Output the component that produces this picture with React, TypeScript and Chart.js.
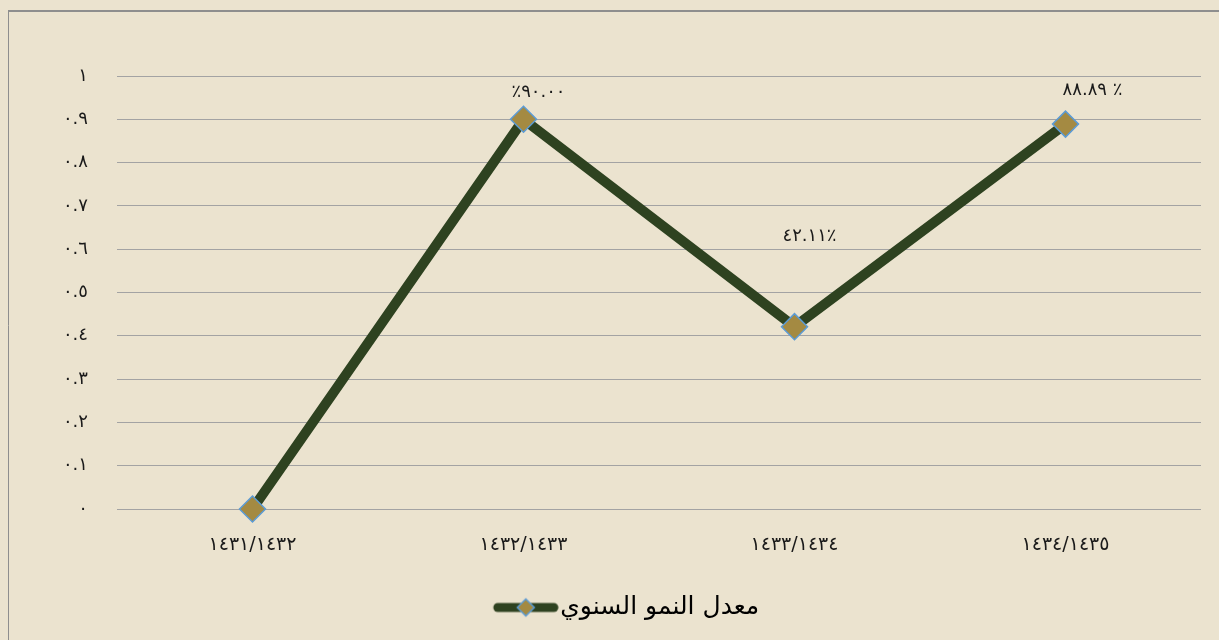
import React, { useEffect, useRef } from "react";
import { Chart, registerables } from "chart.js";

Chart.register(...registerables);

const categories = ["١٤٣١/١٤٣٢", "١٤٣٢/١٤٣٣", "١٤٣٣/١٤٣٤", "١٤٣٤/١٤٣٥"];
const growthRate = [0, 0.9, 0.4211, 0.8889];
const valueLabels = ["", "٪٩٠.٠٠", "٤٢.١١٪", "٨٨.٨٩ ٪"];
const yTickLabels = ["٠", "٠.١", "٠.٢", "٠.٣", "٠.٤", "٠.٥", "٠.٦", "٠.٧", "٠.٨", "٠.٩", "١"];
const seriesName = "معدل النمو السنوي";

const BG = "#EBE3CF";
const LINE = "#2E4220";
const MARKER = "#A48A42";
const MARKER_EDGE = "#5B9BD5";
const FONT = "'DejaVu Sans', sans-serif";

// label placement relative to each point (px)
const labelShift = [
  [0, 0],
  [15, -27],
  [15, -90],
  [27, -34],
];

function makeLegendImage(): HTMLCanvasElement {
  const c = document.createElement("canvas");
  c.width = 84;
  c.height = 24;
  const g = c.getContext("2d")!;
  const ox = 18;
  g.strokeStyle = LINE;
  g.lineWidth = 9;
  g.lineCap = "round";
  g.beginPath();
  g.moveTo(ox + 5, 12);
  g.lineTo(ox + 61, 12);
  g.stroke();
  g.beginPath();
  g.moveTo(ox + 33 - 8.5, 12);
  g.lineTo(ox + 33, 3.5);
  g.lineTo(ox + 33 + 8.5, 12);
  g.lineTo(ox + 33, 20.5);
  g.closePath();
  g.fillStyle = MARKER;
  g.fill();
  g.strokeStyle = MARKER_EDGE;
  g.lineWidth = 1.5;
  g.stroke();
  return c;
}

const framePlugin = {
  id: "frame",
  beforeDraw(chart: any) {
    const ctx = chart.ctx;
    ctx.save();
    ctx.fillStyle = BG;
    ctx.fillRect(0, 0, chart.width, chart.height);
    ctx.strokeStyle = "#8E8E8E";
    ctx.lineWidth = 2;
    ctx.beginPath();
    ctx.moveTo(8, 11);
    ctx.lineTo(chart.width, 11);
    ctx.stroke();
    ctx.lineWidth = 1;
    ctx.beginPath();
    ctx.moveTo(8.5, 11);
    ctx.lineTo(8.5, chart.height);
    ctx.stroke();
    ctx.restore();
  },
};

const labelPlugin = {
  id: "valueLabels",
  afterDatasetsDraw(chart: any) {
    const ctx = chart.ctx;
    const meta = chart.getDatasetMeta(0);
    ctx.save();
    ctx.font = `18px ${FONT}`;
    ctx.fillStyle = "#1a1a1a";
    ctx.textAlign = "center";
    ctx.textBaseline = "middle";
    meta.data.forEach((pt: any, i: number) => {
      const t = valueLabels[i];
      if (!t) return;
      ctx.fillText(t, pt.x + labelShift[i][0], pt.y + labelShift[i][1]);
    });
    ctx.restore();
  },
};

export default function App() {
  const ref = useRef<HTMLCanvasElement | null>(null);

  useEffect(() => {
    document.body.style.margin = "0";
    document.body.style.background = BG;
    const legendImg = makeLegendImage();
    const chart = new Chart(ref.current!, {
      type: "line",
      data: {
        labels: categories,
        datasets: [
          {
            label: seriesName,
            data: growthRate,
            borderColor: LINE,
            borderWidth: 10,
            tension: 0,
            clip: false as any,
            pointStyle: "rectRot",
            pointRadius: 13,
            pointHoverRadius: 13,
            pointBackgroundColor: MARKER,
            pointBorderColor: MARKER_EDGE,
            pointBorderWidth: 1.5,
            fill: false,
          },
        ],
      },
      options: {
        responsive: false,
        animation: false,
        layout: { padding: { top: 76, right: 18, left: 44, bottom: 10 } },
        scales: {
          x: {
            offset: true,
            grid: { display: false },
            border: { display: false },
            ticks: {
              padding: 17,
              color: "#1a1a1a",
              font: { family: FONT, size: 19 },
            },
            afterFit(scale: any) {
              scale.height = 76;
            },
          },
          y: {
            min: 0,
            max: 1,
            grid: { color: "#A3A3A3", lineWidth: 1, drawTicks: false },
            border: { display: false },
            ticks: {
              stepSize: 0.1,
              padding: 29,
              color: "#1a1a1a",
              font: { family: FONT, size: 18 },
              callback: (_v: any, i: number) => yTickLabels[i],
            },
            afterFit(scale: any) {
              scale.width = 73;
            },
          },
        },
        plugins: {
          tooltip: { enabled: false },
          legend: {
            position: "bottom",
            labels: {
              usePointStyle: true,
              pointStyleWidth: 62,
              padding: 10,
              color: "#1a1a1a",
              font: { family: FONT, size: 25 },
              generateLabels: () => [
                {
                  text: seriesName,
                  pointStyle: legendImg as any,
                  fillStyle: MARKER,
                  strokeStyle: LINE,
                  lineWidth: 0,
                  datasetIndex: 0,
                  hidden: false,
                } as any,
              ],
            },
          },
        },
      },
      plugins: [framePlugin, labelPlugin],
    });
    return () => chart.destroy();
  }, []);

  return (
    <div style={{ width: 1219, height: 640 }}>
      <canvas ref={ref} width={1219} height={640} style={{ display: "block" }} />
    </div>
  );
}
